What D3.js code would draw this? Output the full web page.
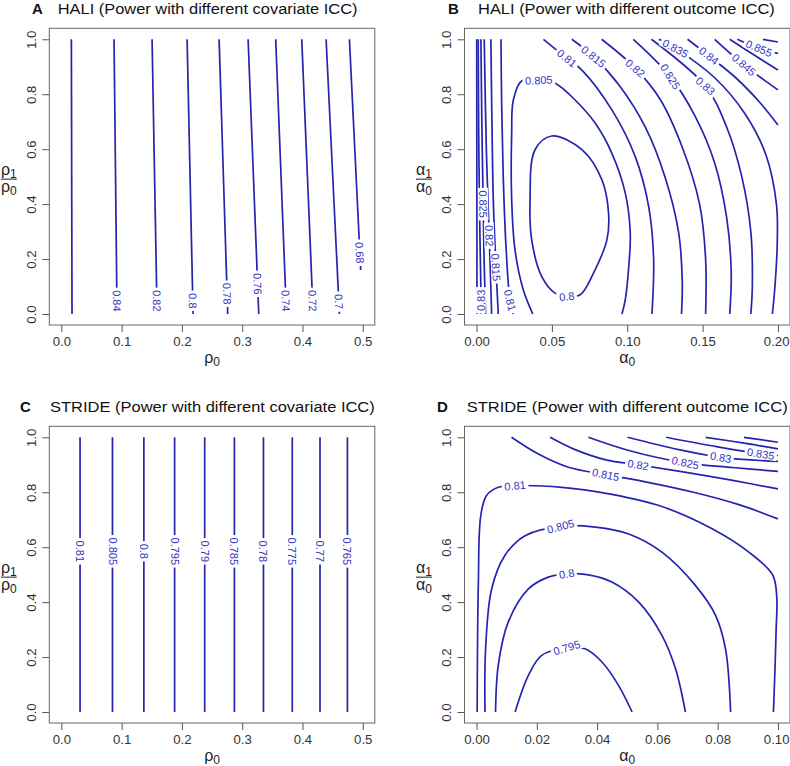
<!DOCTYPE html>
<html>
<head>
<meta charset="utf-8">
<script src="https://cdn.jsdelivr.net/npm/d3@7/dist/d3.min.js"></script>
<style>
  body { margin: 0; background: #fff; }
  svg { font-family: "Liberation Sans", Arial, sans-serif; }
</style>
</head>
<body>
<svg id="chart" width="790" height="766"></svg>
<script>
// ---- tick values ----
const rhoTicks = [0, 0.1, 0.2, 0.3, 0.4, 0.5];
const alphaTicksB = [0, 0.05, 0.10, 0.15, 0.20];
const alphaTicksD = [0, 0.02, 0.04, 0.06, 0.08, 0.10];
const ratioTicks = [0, 0.2, 0.4, 0.6, 0.8, 1.0];

// ---- A: HALI, covariate ICC (contour polylines) ----
const levelsA = [0.86, 0.84, 0.82, 0.8, 0.78, 0.76, 0.74, 0.72, 0.7, 0.68];
const linesA = [
  [[0.0166, 1], [0.0177, 0]],
  [[0.0874, 1], [0.0924, 0]],
  [[0.1505, 1], [0.1588, 0]],
  [[0.2086, 1], [0.2185, 0]],
  [[0.2617, 1], [0.2760, 0]],
  [[0.3098, 1], [0.3275, 0]],
  [[0.3556, 1], [0.3734, 0]],
  [[0.3988, 1], [0.4177, 0]],
  [[0.4392, 1], [0.4613, 0]],
  [[0.4779, 1], [0.4966, 0.16]]
];
const labelsA = [null, [0.0922, 0.048], [0.1584, 0.048], [0.2180, 0.048], [0.2749, 0.074],
  [0.3256, 0.11], [0.3725, 0.048], [0.4168, 0.048], [0.4603, 0.045], [0.4950, 0.223]];

// ---- B: HALI, outcome ICC ----
const levelsB = [0.835, 0.83, 0.825, 0.82, 0.815, 0.81, 0.805, 0.8,
  0.81, 0.815, 0.82, 0.825, 0.83, 0.835, 0.84, 0.845, 0.85, 0.855, 0.86];
const linesB = [
  [[0.0003, 0], [0.0002, 0.5], [0.0001, 1]],
  [[0.0027, 0], [0.0029, 0.05], [0.0022, 0.3], [0.0015, 0.6], [0.0011, 1]],
  [[0.006, 0], [0.005, 0.2], [0.0044, 0.4], [0.0035, 0.7], [0.0029, 1]],
  [[0.010, 0], [0.0092, 0.15], [0.0084, 0.285], [0.0065, 0.6], [0.0051, 1]],
  [[0.0144, 0], [0.0129, 0.17], [0.0112, 0.4], [0.0102, 0.7], [0.0095, 1]],
  [[0.0244, 0], [0.0222, 0.05], [0.0195, 0.25], [0.0177, 0.5], [0.0167, 0.75], [0.0162, 1]],
  [[0.0373, 0], [0.031, 0.088], [0.0255, 0.234], [0.0233, 0.416], [0.0233, 0.658], [0.0244, 0.779],
   [0.0299, 0.848], [0.0413, 0.851], [0.0521, 0.84], [0.0654, 0.779], [0.0787, 0.695], [0.0898, 0.585],
   [0.0987, 0.44], [0.102, 0.295], [0.101, 0.173], [0.0987, 0.052], [0.0965, 0]],
  [[0.0599, 0.064], [0.0688, 0.07], [0.0776, 0.149], [0.0865, 0.27], [0.0876, 0.367], [0.0832, 0.488],
   [0.0699, 0.598], [0.0499, 0.648], [0.0388, 0.598], [0.0355, 0.416], [0.0366, 0.27], [0.0432, 0.137],
   [0.0521, 0.076], [0.0599, 0.064]],
  [[0.0444, 1], [0.0599, 0.931], [0.0699, 0.888], [0.0898, 0.743], [0.1053, 0.573], [0.1142, 0.392], [0.1175, 0.2], [0.1164, 0]],
  [[0.0632, 1], [0.0776, 0.937], [0.095, 0.83], [0.112, 0.68], [0.125, 0.5], [0.134, 0.3], [0.1365, 0.12], [0.136, 0]],
  [[0.083, 1], [0.1053, 0.895], [0.122, 0.78], [0.137, 0.6], [0.148, 0.4], [0.152, 0.2], [0.152, 0]],
  [[0.104, 1], [0.1286, 0.864], [0.145, 0.72], [0.158, 0.55], [0.166, 0.35], [0.169, 0.15], [0.168, 0]],
  [[0.116, 1], [0.1519, 0.83], [0.166, 0.68], [0.176, 0.5], [0.182, 0.3], [0.183, 0.1], [0.182, 0]],
  [[0.121, 1], [0.132, 0.967], [0.158, 0.86], [0.178, 0.73], [0.192, 0.58], [0.199, 0.4], [0.1995, 0.25], [0.198, 0.1], [0.1963, 0]],
  [[0.14, 1], [0.1541, 0.94], [0.172, 0.86], [0.188, 0.77], [0.2, 0.688]],
  [[0.158, 1], [0.1774, 0.907], [0.2, 0.816]],
  [[0.168, 1], [0.185, 0.94], [0.2, 0.888]],
  [[0.173, 1], [0.1874, 0.967], [0.2, 0.949]],
  [[0.19, 1], [0.2, 0.99]]
];
const labelsB = [null, [0.0029, 0.05], [0.0044, 0.4], [0.0084, 0.285], [0.0129, 0.17], [0.0222, 0.05],
  [0.0413, 0.851], [0.0599, 0.064], [0.0599, 0.931], [0.0776, 0.937], [0.1053, 0.895], [0.1286, 0.864],
  [0.1519, 0.83], [0.132, 0.967], [0.1541, 0.94], [0.1774, 0.907], null, [0.1874, 0.967], null];

// ---- C: STRIDE, covariate ICC ----
const levelsC = [0.81, 0.805, 0.8, 0.795, 0.79, 0.785, 0.78, 0.775, 0.77, 0.765];
const linesC = [
  [[0.031, 1], [0.031, 0]],
  [[0.0848, 1], [0.0848, 0]],
  [[0.1369, 1], [0.1369, 0]],
  [[0.1879, 1], [0.1879, 0]],
  [[0.2378, 1], [0.2378, 0]],
  [[0.2871, 1], [0.2871, 0]],
  [[0.3353, 1], [0.3353, 0]],
  [[0.3831, 1], [0.3831, 0]],
  [[0.4291, 1], [0.4291, 0]],
  [[0.4746, 1], [0.4746, 0]]
];
const labelsC = [[0.031, 0.585], [0.0848, 0.585], [0.1369, 0.585], [0.1879, 0.585], [0.2378, 0.585],
  [0.2871, 0.585], [0.3353, 0.585], [0.3831, 0.585], [0.4291, 0.585], [0.4746, 0.585]];

// ---- D: STRIDE, outcome ICC ----
const levelsD = [0.795, 0.8, 0.805, 0.81, 0.815, 0.82, 0.825, 0.83, 0.835, 0.84, 0.845];
const linesD = [
  [[0.0128, 0], [0.0172, 0.133], [0.0216, 0.206], [0.0299, 0.234], [0.036, 0.23], [0.0416, 0.182], [0.0471, 0.097], [0.0516, 0]],
  [[0.0063, 0], [0.0072, 0.17], [0.0105, 0.327], [0.0172, 0.448], [0.0238, 0.491], [0.0299, 0.503], [0.0371, 0.499],
   [0.0449, 0.473], [0.0538, 0.4], [0.0615, 0.279], [0.066, 0.158], [0.0693, 0]],
  [[0.0028, 0], [0.003, 0.23], [0.005, 0.448], [0.0094, 0.57], [0.0161, 0.642], [0.0279, 0.676], [0.0394, 0.673],
   [0.0505, 0.648], [0.0615, 0.582], [0.0726, 0.461], [0.0793, 0.352], [0.0826, 0.23], [0.0843, 0]],
  [[0.0002, 0], [0.0006, 0.473], [0.0014, 0.715], [0.0033, 0.788], [0.0072, 0.818], [0.0128, 0.824], [0.0283, 0.818],
   [0.0449, 0.792], [0.0615, 0.748], [0.078, 0.668], [0.09, 0.585], [0.0982, 0.5], [0.0996, 0.42], [0.0994, 0.3],
   [0.099, 0.15], [0.0985, 0]],
  [[0.0116, 1], [0.0205, 0.939], [0.0305, 0.891], [0.0429, 0.864], [0.056, 0.838], [0.072, 0.8], [0.087, 0.755], [0.1, 0.703]],
  [[0.0244, 1], [0.0327, 0.955], [0.0429, 0.918], [0.0536, 0.9], [0.068, 0.875], [0.085, 0.843], [0.1, 0.812]],
  [[0.0371, 1], [0.0505, 0.952], [0.0693, 0.907], [0.085, 0.89], [0.1, 0.876]],
  [[0.0501, 1], [0.0671, 0.955], [0.081, 0.927], [0.1, 0.912]],
  [[0.0629, 1], [0.08, 0.965], [0.0943, 0.94], [0.1, 0.934]],
  [[0.076, 1], [0.0893, 0.978], [0.1, 0.958]],
  [[0.0887, 1], [0.1, 0.982]]
];
const labelsD = [[0.0299, 0.234], [0.0299, 0.503], [0.0279, 0.676], [0.0128, 0.824], [0.0429, 0.864],
  [0.0536, 0.9], [0.0693, 0.907], [0.081, 0.927], [0.0943, 0.94], null, null];

// ---- layout ----
const W = 325.5, H = 296.7;
const lineColor = "#2424b0";
const panels = [
  {letter: "A", title: "HALI (Power with different covariate ICC)", left: 49.3, top: 28.3,
   xDomain: [-0.02, 0.52], xTicks: rhoTicks, fmt: ".1f", sym: "ρ", letterX: 32, titleX: 57.7, titleW: 300, titleY: 14},
  {letter: "B", title: "HALI (Power with different outcome ICC)", left: 464.5, top: 28.3,
   xDomain: [-0.008, 0.208], xTicks: alphaTicksB, fmt: ".2f", sym: "α", letterX: 448, titleX: 478, titleW: 297, titleY: 14},
  {letter: "C", title: "STRIDE (Power with different covariate ICC)", left: 49.3, top: 426.3,
   xDomain: [-0.02, 0.52], xTicks: rhoTicks, fmt: ".1f", sym: "ρ", letterX: 20, titleX: 50, titleW: 325, titleY: 411.5},
  {letter: "D", title: "STRIDE (Power with different outcome ICC)", left: 464.5, top: 426.3,
   xDomain: [-0.004, 0.104], xTicks: alphaTicksD, fmt: ".2f", sym: "α", letterX: 437, titleX: 466.7, titleW: 321, titleY: 411.5}
];
panels[0].levels = levelsA; panels[0].lines = linesA; panels[0].labels = labelsA;
panels[1].levels = levelsB; panels[1].lines = linesB; panels[1].labels = labelsB;
panels[2].levels = levelsC; panels[2].lines = linesC; panels[2].labels = labelsC;
panels[3].levels = levelsD; panels[3].lines = linesD; panels[3].labels = labelsD;

const svg = d3.select("#chart");

panels.forEach((p, pi) => {
  const x = d3.scaleLinear().domain(p.xDomain).range([0, W]);
  const y = d3.scaleLinear().domain([-0.04, 1.04]).range([H, 0]);

  // title: bold letter, then the text stretched to the width it takes in the figure
  svg.append("text").attr("x", p.letterX).attr("y", p.titleY)
    .attr("font-size", 15).attr("font-weight", "bold").attr("fill", "#111").text(p.letter);
  const tt = svg.append("text").attr("font-size", 15).attr("fill", "#111").text(p.title);
  const sx = p.titleW / tt.node().getComputedTextLength();
  tt.attr("transform", `translate(${p.titleX},${p.titleY}) scale(${sx},1)`);

  const g = svg.append("g").attr("transform", `translate(${p.left},${p.top})`);

  g.append("clipPath").attr("id", "clip" + pi)
    .append("rect").attr("width", W).attr("height", H);

  // axes
  const xAxis = g.append("g").attr("transform", `translate(0,${H})`)
    .call(d3.axisBottom(x).tickValues(p.xTicks).tickFormat(d3.format(p.fmt)).tickSize(7).tickPadding(5));
  const yAxis = g.append("g")
    .call(d3.axisLeft(y).tickValues(ratioTicks).tickFormat(d3.format(".1f")).tickSize(7));
  [xAxis, yAxis].forEach(a => {
    a.select(".domain").remove();
    a.selectAll("line").attr("stroke", "#555");
    a.selectAll("text").attr("font-size", 13.2).attr("fill", "#333")
      .attr("font-family", '"Liberation Sans", Arial, sans-serif');
  });
  yAxis.selectAll("text")
    .attr("x", 0).attr("y", -13.2).attr("dy", null)
    .attr("text-anchor", "middle").attr("transform", "rotate(-90)");
  // keep the last x tick label inside the page
  xAxis.selectAll("text").each(function () {
    const b = this.getBoundingClientRect();
    if (b.right > 789.5) d3.select(this).attr("dx", -(b.right - 789.5));
  });

  g.append("rect").attr("width", W).attr("height", H)
    .attr("fill", "none").attr("stroke", "#666").attr("stroke-width", 1);

  // axis titles
  const xl = g.append("text").attr("x", W / 2).attr("y", H + 38.5)
    .attr("text-anchor", "middle").attr("font-size", 16).attr("fill", "#222");
  xl.append("tspan").text(p.sym);
  xl.append("tspan").attr("font-size", 12).attr("dy", 3).text("0");

  const cx = -40.5, cy = H / 2;
  const num = g.append("text").attr("x", cx).attr("y", cy - 2)
    .attr("text-anchor", "middle").attr("font-size", 16).attr("fill", "#222");
  num.append("tspan").text(p.sym);
  num.append("tspan").attr("font-size", 12).attr("dy", 3).text("1");
  g.append("line").attr("x1", cx - 8).attr("x2", cx + 8).attr("y1", cy + 2.5).attr("y2", cy + 2.5)
    .attr("stroke", "#222").attr("stroke-width", 1);
  const den = g.append("text").attr("x", cx).attr("y", cy + 15)
    .attr("text-anchor", "middle").attr("font-size", 16).attr("fill", "#222");
  den.append("tspan").text(p.sym);
  den.append("tspan").attr("font-size", 12).attr("dy", 3).text("0");

  // contours
  const plot = g.append("g").attr("clip-path", `url(#clip${pi})`);
  p.lines.forEach((pts, i) => {
    const closed = pts.length > 3 && pts[0][0] === pts[pts.length - 1][0] && pts[0][1] === pts[pts.length - 1][1];
    const line = d3.line().x(d => x(d[0])).y(d => y(d[1]))
      .curve(closed ? d3.curveCatmullRomClosed : d3.curveCatmullRom.alpha(0.5));
    plot.append("path")
      .attr("d", line(closed ? pts.slice(0, -1) : pts))
      .attr("fill", "none").attr("stroke", lineColor).attr("stroke-width", 1.7);
  });

  // contour labels (white gap behind the text, rotated with the line)
  const labG = g.append("g");
  p.labels.forEach((lab, i) => {
    if (!lab) return;
    const px = p.lines[i].map(d => [x(d[0]), y(d[1])]);
    const q = [x(lab[0]), y(lab[1])];
    let best = Infinity, ang = 0;
    for (let k = 0; k < px.length - 1; k++) {
      const a = px[k], b = px[k + 1];
      const dx = b[0] - a[0], dy = b[1] - a[1];
      const t = Math.max(0, Math.min(1, ((q[0] - a[0]) * dx + (q[1] - a[1]) * dy) / (dx * dx + dy * dy)));
      const dd = Math.hypot(a[0] + t * dx - q[0], a[1] + t * dy - q[1]);
      if (dd < best) { best = dd; ang = Math.atan2(dy, dx) * 180 / Math.PI; }
    }
    if (ang > 90) ang -= 180;
    if (ang <= -90) ang += 180;
    const lg = labG.append("g").attr("transform", `translate(${q[0]},${q[1]}) rotate(${ang})`);
    const bg = lg.append("rect").attr("fill", "#fff");
    const t = lg.append("text").attr("text-anchor", "middle").attr("dy", "0.36em")
      .attr("font-size", 11).attr("fill", "#3434c4").text(String(p.levels[i]));
    const len = t.node().getComputedTextLength();
    bg.attr("x", -len / 2 - 2.5).attr("y", -5).attr("width", len + 5).attr("height", 10);
  });
});
</script>
</body>
</html>
